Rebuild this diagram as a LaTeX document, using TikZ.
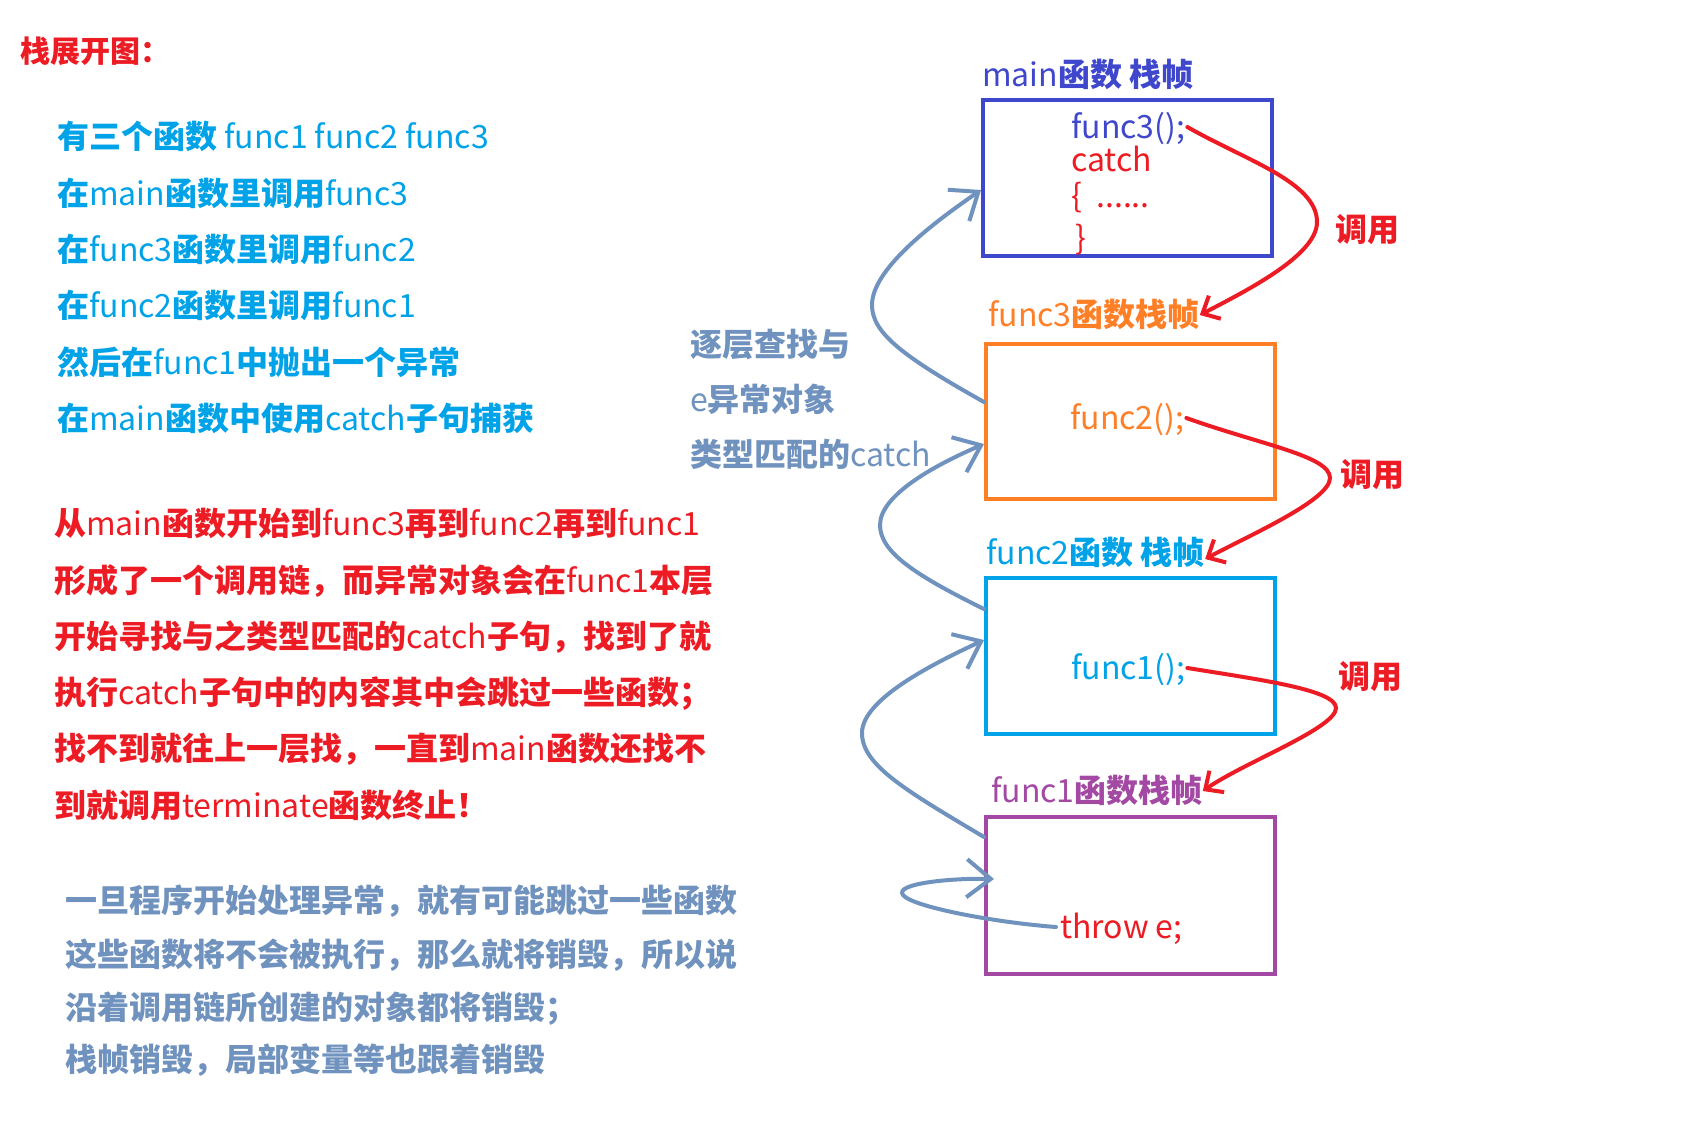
\documentclass[tikz,border=0pt]{standalone}
\usepackage{fontspec}
\setmainfont{Noto Sans CJK SC}
\usetikzlibrary{arrows.meta}
\definecolor{cred}{HTML}{ED1C24}
\definecolor{cblue}{HTML}{00A2E8}
\definecolor{cindigo}{HTML}{3F48CC}
\definecolor{corange}{HTML}{FF7F27}
\definecolor{cpurple}{HTML}{A349A4}
\definecolor{cgray}{HTML}{7092BE}
\newcommand\lat[1]{{\mdseries #1}}
\begin{document}
\begin{tikzpicture}[x=1pt,y=-1pt,
  txt/.style={anchor=west, inner sep=0pt, text height=27pt, text depth=5pt,
    font=\fontsize{32}{38}\selectfont\bfseries},
  code/.style={anchor=west, inner sep=0pt, text height=27pt, text depth=5pt,
    font=\fontsize{32}{38}\selectfont},
  frame/.style={draw=#1, line width=4pt, minimum width=289pt, minimum height=156pt,
    anchor=north west, inner sep=0pt},
  callarrow/.style={draw=cred, line width=4pt, line cap=round,
    -{Straight Barb[length=14pt,width=26pt,line width=4pt]}},
  backarrow/.style={draw=cgray, line width=4pt, line cap=round,
    -{Straight Barb[length=24pt,width=38pt,line width=4pt]}}]
\fill[white] (0,0) rectangle (1708,1125);
\useasboundingbox (0,0) rectangle (1708,1125);

% title
\node[txt, cred, font=\fontsize{30}{36}\selectfont\bfseries] (title) at (20,51) {栈展开图：};

% blue text
\node[txt, cblue] (b1) at (57,137) {有三个函数\lat{ func1 func2 func3}};
\node[txt, cblue] (b2) at (57,194) {在\lat{main}函数里调用\lat{func3}};
\node[txt, cblue] (b3) at (57,250) {在\lat{func3}函数里调用\lat{func2}};
\node[txt, cblue] (b4) at (57,306) {在\lat{func2}函数里调用\lat{func1}};
\node[txt, cblue] (b5) at (57,363) {然后在\lat{func1}中抛出一个异常};
\node[txt, cblue] (b6) at (57,419) {在\lat{main}函数中使用\lat{catch}子句捕获};

% red text
\node[txt, cred] (r1) at (54,524) {从\lat{main}函数开始到\lat{func3}再到\lat{func2}再到\lat{func1}};
\node[txt, cred] (r2) at (54,581) {形成了一个调用链，而异常对象会在\lat{func1}本层};
\node[txt, cred] (r3) at (54,637) {开始寻找与之类型匹配的\lat{catch}子句，找到了就};
\node[txt, cred] (r4) at (54,693) {执行\lat{catch}子句中的内容其中会跳过一些函数；};
\node[txt, cred] (r5) at (54,749) {找不到就往上一层找，一直到\lat{main}函数还找不};
\node[txt, cred] (r6) at (54,806) {到就调用\lat{terminate}函数终止！};

% gray text
\node[txt, cgray] (g1) at (65,901) {一旦程序开始处理异常，就有可能跳过一些函数};
\node[txt, cgray] (g2) at (65,955) {这些函数将不会被执行，那么就将销毁，所以说};
\node[txt, cgray] (g3) at (65,1008) {沿着调用链所创建的对象都将销毁；};
\node[txt, cgray] (g4) at (65,1060) {栈帧销毁，局部变量等也跟着销毁};

% middle gray labels
\node[txt, cgray] (m1) at (690,345) {逐层查找与};
\node[txt, cgray] (m2) at (690,400) {\lat{e}异常对象};
\node[txt, cgray] (m3) at (690,455) {类型匹配的\lat{catch}};

% frame labels
\node[txt, cindigo] (mlab) at (982,75) {\lat{main}函数 栈帧};
\node[txt, corange] (f3lab) at (988,315) {\lat{func3}函数栈帧};
\node[txt, cblue] (f2lab) at (986,553) {\lat{func2}函数 栈帧};
\node[txt, cpurple] (f1lab) at (991,791) {\lat{func1}函数栈帧};

% frames
\node[frame=cindigo] (mb) at (981,98) {};
\node[frame=corange, minimum height=155pt] (f3box) at (984,342) {};
\node[frame=cblue] (f2box) at (984,576) {};
\node[frame=cpurple, minimum height=157pt] (f1box) at (984,815) {};

% code inside frames
\node[code, cindigo] (c3) at (1071,127) {func3();};
\node[code, cred] (ccatch) at (1071,160) {catch};
\node[code, cred] (cob) at (1071,196) {\{\ \ ......};
\node[code, cred] (ccb) at (1075,238) {\}};
\node[code, corange] (c2) at (1070,418) {func2();};
\node[code, cblue] (c1) at (1071,668) {func1();};
\node[code, cred] (te) at (1060,927) {throw e;};

% call labels
\node[txt, cred] (call1) at (1335,230) {调用};
\node[txt, cred] (call2) at (1340,475) {调用};
\node[txt, cred] (call3) at (1338,677) {调用};

% call arrows
\draw[callarrow] ([xshift=2pt]c3.east) .. controls (1245,160) and (1317,182) .. (1317,222)
  .. controls (1317,255) and (1248,290) .. (f3lab.east);
\draw[callarrow] ([xshift=2pt]c2.east) .. controls (1262,445) and (1330,456) .. (1330,478)
  .. controls (1330,500) and (1250,535) .. ([yshift=-6pt]f2lab.east);
\draw[callarrow] ([xshift=2pt]c1.east) .. controls (1262,680) and (1336,690) .. (1336,708)
  .. controls (1336,728) and (1245,762) .. (f1lab.east);

% back arrows
\draw[backarrow] ([yshift=19.5pt]f3box.west) .. controls (900,355) and (872,332) .. (872,305)
  .. controls (872,270) and (930,225) .. ([yshift=-12pt]mb.west);
\draw[backarrow] ([yshift=47pt]f2box.west) .. controls (915,575) and (880,552) .. (880,525)
  .. controls (880,495) and (935,465) .. ([yshift=-22.5pt]f3box.west);
\draw[backarrow] ([yshift=58.5pt]f1box.west) .. controls (905,790) and (862,765) .. (862,733)
  .. controls (862,700) and (930,665) .. ([yshift=16pt]f2box.west);
\draw[backarrow] ([xshift=-4pt]te.west) .. controls (990,922) and (903,905) .. (902,893)
  .. controls (901,882) and (960,878) .. ([xshift=10pt,yshift=16.5pt]f1box.west);
\end{tikzpicture}
\end{document}
